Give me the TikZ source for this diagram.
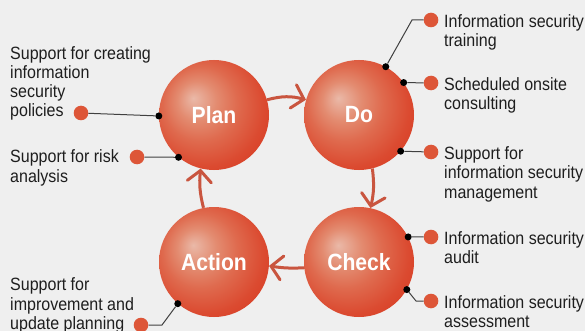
\documentclass[tikz,border=0pt]{standalone}
\usepackage{fontspec}
\setmainfont{Liberation Sans}[FakeStretch=0.9]
\usetikzlibrary{arrows.meta}

\definecolor{paper}{HTML}{EFEFEF}
\definecolor{dotred}{HTML}{DD5638}
\definecolor{arrowred}{HTML}{C9553F}
\definecolor{ballhi}{HTML}{EAB9A8}
\definecolor{ballmid}{HTML}{E38B70}
\definecolor{balllow}{HTML}{DF6A4E}
\definecolor{balledge}{HTML}{DB4A30}
\definecolor{ballrim}{HTML}{D6371F}
\definecolor{ink}{HTML}{1E1E1E}

\pgfdeclareradialshading{redball}{\pgfpoint{-9.5bp}{7.7bp}}{%
  color(0bp)=(ballhi); color(9bp)=(ballmid); color(17bp)=(balllow);
  color(27bp)=(balledge); color(37bp)=(ballrim); color(50bp)=(ballrim)}

\begin{document}
\begin{tikzpicture}[x=1pt,y=-1pt]
    \tikzstyle{phase}=[circle,minimum size=110pt,inner sep=0pt,shade,shading=redball,text=white,font=\fontsize{23.5}{28}\selectfont\bfseries]
    \tikzstyle{bullet}=[circle,fill=dotred,minimum size=14.6pt,inner sep=0pt]
    \tikzstyle{pin}=[circle,fill=black,minimum size=7pt,inner sep=0pt]
    \tikzstyle{annot}=[anchor=base west,align=left,inner sep=0pt,text=ink,font=\fontsize{17.8}{19.3}\selectfont]
    \tikzstyle{lead}=[draw=black!75,line width=1pt]
    \tikzstyle{turn}=[draw=arrowred,line width=3pt,-{Straight Barb[length=11pt,width=24pt,line cap=round]}]

    \useasboundingbox (0,0) rectangle (585,331);
    \fill[paper] (0,0) rectangle (585,331);

    %%% DRAW THE PHASES
    \node[phase] (plan)   at (214,115) {Plan};
    \node[phase] (do)     at (359,115) {Do};
    \node[phase] (check)  at (359,262) {Check};
    \node[phase] (action) at (214,262) {Action};

    %%% DRAW THE CYCLE
    \draw[turn] (plan.16)    to[bend left=15] (do.164);
    \draw[turn] (do.-76)     to[bend left=10] (check.78);
    \draw[turn] (check.186)  to[bend left=6]  (action.-4);
    \draw[turn] (action.101) to[bend left=10] (plan.-104);

    %%% DRAW THE PINS AND BULLETS
    \foreach \name / \circ / \ang in {policy/plan/181, risk/plan/230, improve/action/229,
                                      train/do/61, consult/do/36, manage/do/-41,
                                      audit/check/27, assess/check/-30}
        \node[pin] (P-\name) at (\circ.\ang) {};

    \foreach \name / \x / \y in {policy/81/113, risk/137/157, improve/141/325,
                                 train/431/20, consult/431/83, manage/431/152,
                                 audit/431/237, assess/431/301}
        \node[bullet] (B-\name) at (\x,\y) {};

    \foreach \name in {policy,risk,consult,manage,audit}
        \path[lead] (B-\name) -- (P-\name);
    \path[lead] (B-train) -- ++(-19,0) -- (P-train);
    \path[lead] (B-assess) -- ++(-15,0) -- (P-assess);
    \path[lead] (B-improve) -- ++(21,0) -- (P-improve);

    %%% ANNOTATE (base is the last line)
    \node[annot] (L-policy)  at (10,117)  {Support for creating\\information\\security\\policies};
    \node[annot] (L-risk)    at (10,182)  {Support for risk\\analysis};
    \node[annot] (L-improve) at (10,329.5) {Support for\\improvement and\\update planning};
    \node[annot] (L-train)   at (444,46.5) {Information security\\training};
    \node[annot] (L-consult) at (444,110) {Scheduled onsite\\consulting};
    \node[annot] (L-manage)  at (444,198) {Support for\\information security\\management};
    \node[annot] (L-audit)   at (444,263.5) {Information security\\audit};
    \node[annot] (L-assess)  at (444,327.5) {Information security\\assessment};

\end{tikzpicture}
\end{document}
